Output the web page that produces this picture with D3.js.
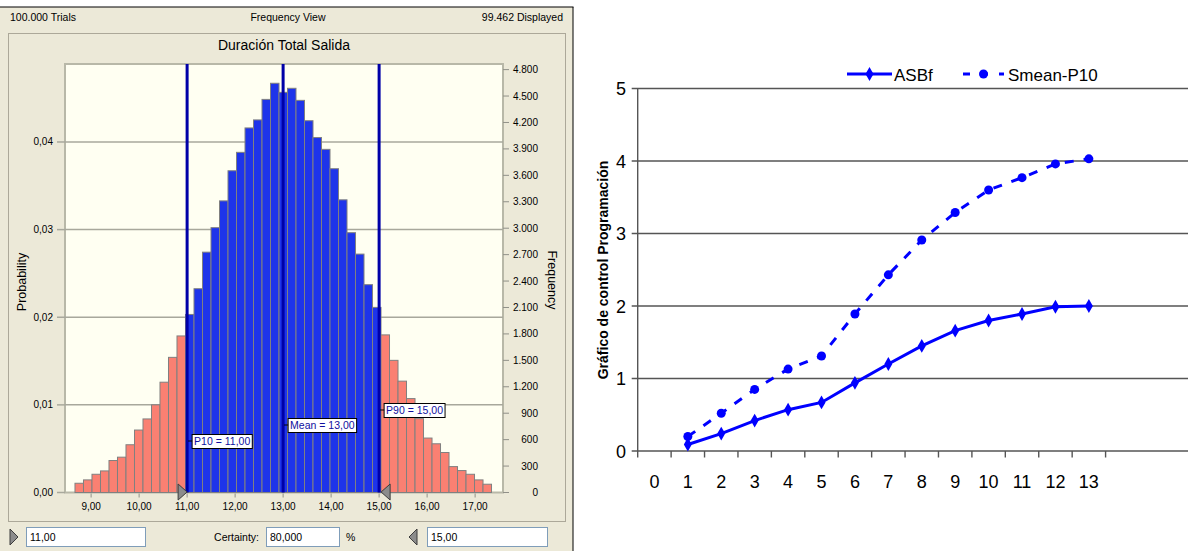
<!DOCTYPE html>
<html>
<head>
<meta charset="utf-8">
<script src="https://cdn.jsdelivr.net/npm/d3@7"></script>
<style>
  body { margin: 0; background: #fff; }
  svg { display: block; }
</style>
</head>
<body>
<div id="chart"></div>
<script>
// ---------- histogram data (Crystal Ball frequency view) ----------
const histCounts = [105, 143, 207, 245, 363, 401, 542, 709, 835, 995, 1252, 1534, 1777,
  2021, 2313, 2728, 3006, 3310, 3652, 3861, 4138, 4229, 4462, 4645, 4542, 4588,
  4451, 4220, 4029, 3895, 3675, 3322, 2949, 2706, 2359, 2101,
  1789, 1500, 1264, 1066, 838, 618, 553, 454, 294, 249, 207, 143, 94];
const BIN_START = 8.664;
const BIN_WIDTH = 0.1771;
const DISPLAYED = 99462;
const histXTicks = [9, 10, 11, 12, 13, 14, 15, 16, 17];
const probTicks = [0, 0.01, 0.02, 0.03, 0.04];
const freqTicks = [0, 300, 600, 900, 1200, 1500, 1800, 2100, 2400, 2700, 3000, 3300, 3600, 3900, 4200, 4500, 4800];
const pctNames = ["P10", "Mean", "P90"];
const pctValues = [11, 13, 15];
const certaintyLow = 11;
const certaintyHigh = 15;
const certainty = 80;

// ---------- line chart data ----------
const periods = [0, 1, 2, 3, 4, 5, 6, 7, 8, 9, 10, 11, 12, 13];
const seriesPeriods = [1, 2, 3, 4, 5, 6, 7, 8, 9, 10, 11, 12, 13];
const asbf = [0.09, 0.24, 0.42, 0.57, 0.67, 0.94, 1.20, 1.45, 1.66, 1.80, 1.89, 1.99, 2.00];
const smeanP10 = [0.20, 0.52, 0.85, 1.13, 1.31, 1.89, 2.43, 2.91, 3.29, 3.60, 3.77, 3.96, 4.03];
const lineYTicks = [0, 1, 2, 3, 4, 5];

const es = d3.formatLocale({ decimal: ",", thousands: ".", grouping: [3], currency: ["", " €"] });
const f2 = es.format(",.2f");
const f0 = es.format(",.0f");
const f3 = es.format(",.3f");

const svg = d3.select("#chart").append("svg")
  .attr("width", 1188).attr("height", 551);

svg.append("rect").attr("width", 1188).attr("height", 551).attr("fill", "#fff");

// ================= LEFT PANEL =================
const UI = "'Liberation Sans', Arial, sans-serif";
const panel = svg.append("g");
panel.append("rect").attr("x", 0).attr("y", 7).attr("width", 573).attr("height", 544).attr("fill", "#ECE9D8");
panel.append("line").attr("x1", 0).attr("x2", 573.5).attr("y1", 7).attr("y2", 7).attr("stroke", "#000");
panel.append("line").attr("x1", 573).attr("x2", 573).attr("y1", 7).attr("y2", 551).attr("stroke", "#000");

// header
panel.append("text").attr("x", 10).attr("y", 21).text(f0(100000) + " Trials");
panel.append("text").attr("x", 288).attr("y", 21).attr("text-anchor", "middle").text("Frequency View");
panel.append("text").attr("x", 563).attr("y", 21).attr("text-anchor", "end").text(f0(DISPLAYED) + " Displayed");
panel.selectAll("text").attr("font-family", UI).attr("font-size", "10.5px").attr("fill", "#000");

// inner frame
panel.append("rect").attr("x", 8.5).attr("y", 33.5).attr("width", 557).attr("height", 488)
  .attr("fill", "none").attr("stroke", "#ACA899");

const H = { left: 65, right: 503, top: 64, bottom: 492.5 };
const hx = d3.scaleLinear().domain([8.456, 17.581]).range([H.left, H.right]);
const yProb = d3.scaleLinear().domain([0, 0.0489]).range([H.bottom, H.top]);
const yFreq = d3.scaleLinear().domain([0, 0.0489 * DISPLAYED]).range([H.bottom, H.top]);

panel.append("text").attr("x", (H.left + H.right) / 2).attr("y", 50).attr("text-anchor", "middle")
  .attr("font-family", UI).attr("font-size", "14px").text("Duración Total Salida");

panel.append("rect").attr("x", H.left).attr("y", H.top).attr("width", H.right - H.left)
  .attr("height", H.bottom - H.top).attr("fill", "#FFFFF2").attr("stroke", "#B8B8A8").attr("stroke-width", 2);

// gridlines + left axis
const gy = panel.append("g");
gy.selectAll("line.grid").data(probTicks.filter((d) => d > 0)).join("line")
  .attr("x1", H.left).attr("x2", H.right)
  .attr("y1", (d) => yProb(d)).attr("y2", (d) => yProb(d))
  .attr("stroke", "#A8A89C").attr("stroke-width", 1.5);
gy.selectAll("line.tick").data(probTicks).join("line")
  .attr("x1", 57).attr("x2", H.left)
  .attr("y1", (d) => yProb(d)).attr("y2", (d) => yProb(d))
  .attr("stroke", "#A8A89C").attr("stroke-width", 1.5);
gy.selectAll("text").data(probTicks).join("text")
  .attr("x", 53).attr("y", (d) => yProb(d) + 3.5).attr("text-anchor", "end")
  .attr("font-family", UI).attr("font-size", "10px").text((d) => f2(d));

// right axis (frequency)
const gf = panel.append("g");
gf.selectAll("line").data(freqTicks).join("line")
  .attr("x1", H.right).attr("x2", H.right + 6)
  .attr("y1", (d) => yFreq(d)).attr("y2", (d) => yFreq(d))
  .attr("stroke", "#909088");
gf.selectAll("text").data(freqTicks).join("text")
  .attr("x", 538).attr("y", (d) => yFreq(d) + 3.5).attr("text-anchor", "end")
  .attr("font-family", UI).attr("font-size", "10px").text((d) => f0(d));

// axis titles
panel.append("text").attr("transform", "translate(26,282) rotate(-90)").attr("text-anchor", "middle")
  .attr("font-family", UI).attr("font-size", "12.5px").text("Probability");
panel.append("text").attr("transform", "translate(548,280) rotate(90)").attr("text-anchor", "middle")
  .attr("font-family", UI).attr("font-size", "12.5px").text("Frequency");

// bars
const bins = histCounts.map((c, i) => ({ x0: BIN_START + i * BIN_WIDTH, count: c }));
panel.append("g").selectAll("rect").data(bins).join("rect")
  .attr("x", (d) => hx(d.x0))
  .attr("width", (d) => hx(d.x0 + BIN_WIDTH) - hx(d.x0))
  .attr("y", (d) => yFreq(d.count))
  .attr("height", (d) => H.bottom - yFreq(d.count))
  .attr("fill", (d) => {
    const mid = d.x0 + BIN_WIDTH / 2;
    return mid >= certaintyLow && mid <= certaintyHigh ? "#1E34EA" : "#FA8072";
  })
  .attr("stroke", "#808080").attr("stroke-width", 1);

// percentile lines
panel.append("g").selectAll("line").data(pctValues).join("line")
  .attr("x1", (d) => hx(d)).attr("x2", (d) => hx(d))
  .attr("y1", H.top).attr("y2", H.bottom)
  .attr("stroke", "#0000A8").attr("stroke-width", 3);

// percentile tags
const tagY = [441, 425, 410];
pctValues.forEach((v, i) => {
  const g = panel.append("g");
  const x0 = hx(v) + 5;
  const t = g.append("text").attr("x", x0 + 2).attr("y", tagY[i] + 4)
    .attr("font-family", UI).attr("font-size", "10.5px").attr("fill", "#1010A0")
    .text(pctNames[i] + " = " + f2(v));
  const w = t.node().getComputedTextLength();
  g.insert("rect", "text").attr("x", x0).attr("y", tagY[i] - 6.5).attr("width", w + 4).attr("height", 14)
    .attr("fill", "#fff").attr("stroke", "#000");
  g.append("line").attr("x1", hx(v) + 1).attr("x2", x0).attr("y1", tagY[i]).attr("y2", tagY[i]).attr("stroke", "#000");
});

// x axis
const gx = panel.append("g");
gx.selectAll("line").data(histXTicks).join("line")
  .attr("x1", (d) => hx(d)).attr("x2", (d) => hx(d))
  .attr("y1", H.bottom + 1).attr("y2", H.bottom + 5).attr("stroke", "#909088");
gx.selectAll("text").data(histXTicks).join("text")
  .attr("x", (d) => hx(d)).attr("y", 510).attr("text-anchor", "middle")
  .attr("font-family", UI).attr("font-size", "10px").text((d) => f2(d));

// slider triangles
const tri = (pts) => panel.append("path").attr("d", d3.line()(pts)).attr("fill", "#8C8C8C").attr("stroke", "#3C3C3C").attr("stroke-width", 1);
const xl = hx(certaintyLow), xr = hx(certaintyHigh) + 2;
tri([[xl - 9, 484], [xl, 492], [xl - 9, 500], [xl - 9, 484]]);
tri([[xr + 9, 484], [xr, 492], [xr + 9, 500], [xr + 9, 484]]);

// bottom controls
tri([[10, 529], [18, 537], [10, 545], [10, 529]]);
tri([[417, 529], [409, 537], [417, 545], [417, 529]]);
const box = (x, w, txt) => {
  panel.append("rect").attr("x", x + 0.5).attr("y", 527.5).attr("width", w).attr("height", 19)
    .attr("fill", "#fff").attr("stroke", "#7F9DB9");
  panel.append("text").attr("x", x + 4).attr("y", 541).attr("font-family", UI).attr("font-size", "10.5px").text(txt);
};
box(26, 119, f2(certaintyLow));
box(266, 73, f3(certainty));
box(427, 120, f2(certaintyHigh));
panel.append("text").attr("x", 259).attr("y", 541).attr("text-anchor", "end")
  .attr("font-family", UI).attr("font-size", "10.5px").text("Certainty:");
panel.append("text").attr("x", 346).attr("y", 541)
  .attr("font-family", UI).attr("font-size", "10.5px").text("%");

// ================= RIGHT CHART =================
const L = { left: 637.7, right: 1188, top: 88.5, bottom: 451 };
const lx = d3.scaleBand().domain(periods).range([L.left, L.left + periods.length * 33.42]).padding(0);
const cx = (p) => lx(p) + lx.bandwidth() / 2;
const ly = d3.scaleLinear().domain([0, 5]).range([L.bottom, L.top]);
const right = svg.append("g");

right.selectAll("line.grid").data(lineYTicks).join("line")
  .attr("x1", L.left - 6).attr("x2", L.right)
  .attr("y1", (d) => ly(d)).attr("y2", (d) => ly(d))
  .attr("stroke", "#555").attr("stroke-width", 1.4);
right.append("line").attr("x1", L.left).attr("x2", L.left).attr("y1", L.top).attr("y2", L.bottom)
  .attr("stroke", "#555").attr("stroke-width", 1.4);
right.selectAll("text.yt").data(lineYTicks).join("text")
  .attr("x", 626).attr("y", (d) => ly(d) + 6.5).attr("text-anchor", "end")
  .attr("font-family", UI).attr("font-size", "18px").text((d) => d);

// x ticks at category boundaries
const bounds = periods.map((p) => lx(p)).concat([lx(13) + lx.bandwidth()]);
right.append("g").selectAll("line").data(bounds).join("line")
  .attr("x1", (d) => d).attr("x2", (d) => d).attr("y1", L.bottom).attr("y2", L.bottom + 6.5)
  .attr("stroke", "#555").attr("stroke-width", 1.4);
right.append("g").selectAll("text").data(periods).join("text")
  .attr("x", (d) => cx(d)).attr("y", 488).attr("text-anchor", "middle")
  .attr("font-family", UI).attr("font-size", "18px").text((d) => d);

right.append("text").attr("transform", "translate(608,270) rotate(-90)").attr("text-anchor", "middle")
  .attr("font-family", UI).attr("font-size", "14px").attr("font-weight", "bold")
  .text("Gráfico de control Programación");

const BLUE = "#0000FF";
const lineGen = d3.line().x((d, i) => cx(seriesPeriods[i])).y((d) => ly(d));

right.append("path").attr("d", lineGen(smeanP10)).attr("fill", "none")
  .attr("stroke", BLUE).attr("stroke-width", 3).attr("stroke-dasharray", "9,10");
right.append("g").selectAll("circle").data(smeanP10).join("circle")
  .attr("cx", (d, i) => cx(seriesPeriods[i])).attr("cy", (d) => ly(d)).attr("r", 4.5).attr("fill", BLUE);

right.append("path").attr("d", lineGen(asbf)).attr("fill", "none")
  .attr("stroke", BLUE).attr("stroke-width", 3);
const diamond = d3.symbol().type(d3.symbolDiamond).size(55);
right.append("g").selectAll("path").data(asbf).join("path")
  .attr("d", diamond)
  .attr("transform", (d, i) => `translate(${cx(seriesPeriods[i])},${ly(d)})`)
  .attr("fill", BLUE);

// legend
const lg = right.append("g");
lg.append("line").attr("x1", 847).attr("x2", 892).attr("y1", 74).attr("y2", 74).attr("stroke", BLUE).attr("stroke-width", 3);
lg.append("path").attr("d", diamond).attr("transform", "translate(869.5,74)").attr("fill", BLUE);
lg.append("text").attr("x", 894).attr("y", 80.5).attr("font-family", UI).attr("font-size", "17px").text("ASBf");
lg.append("line").attr("x1", 963).attr("x2", 1004).attr("y1", 74).attr("y2", 74).attr("stroke", BLUE)
  .attr("stroke-width", 3).attr("stroke-dasharray", "7,11");
lg.append("circle").attr("cx", 983.5).attr("cy", 74).attr("r", 4.5).attr("fill", BLUE);
lg.append("text").attr("x", 1008).attr("y", 80.5).attr("font-family", UI).attr("font-size", "17px").text("Smean-P10");
</script>
</body>
</html>
